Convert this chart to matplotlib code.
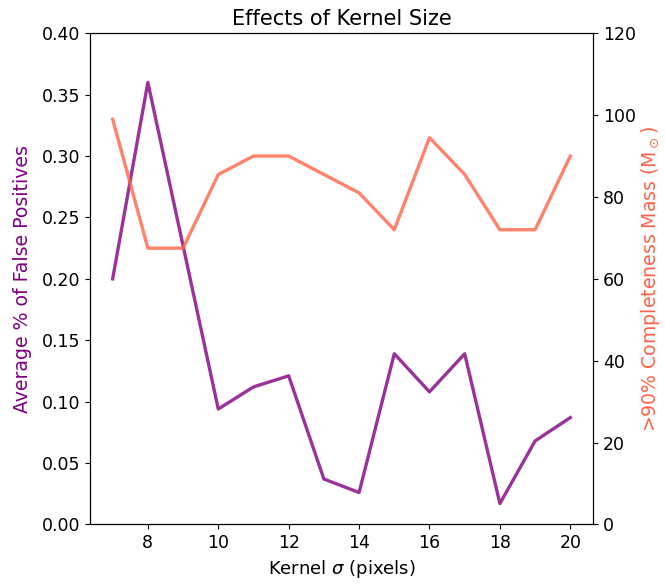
import numpy as np
import matplotlib
matplotlib.use('Agg')
import matplotlib.pyplot as plt

# Data ----------------------------------------------------------------------------------
kernel_sigma = [7, 8, 9, 10, 11, 12, 13, 14, 15, 16, 17, 18, 19, 20]
false_pos = [0.200, 0.360, 0.227, 0.094, 0.112, 0.121, 0.037, 0.026,
             0.139, 0.108, 0.139, 0.017, 0.068, 0.087]
completeness_mass = [99.0, 67.5, 67.5, 85.5, 90.0, 90.0, 85.5, 81.0,
                     72.0, 94.5, 85.5, 72.0, 72.0, 90.0]

plt.rcParams['font.size'] = 12.5

fig = plt.figure(figsize=(6.65, 5.84), dpi=100)
ax1 = fig.add_axes([0.135, 0.102, 0.757, 0.841])

ax1.plot(kernel_sigma, false_pos, color='purple', alpha=0.8, lw=2.4)
ax1.set_ylim(0, 0.40)
ax1.set_yticks(np.arange(0, 0.41, 0.05))
ax1.set_xticks([8, 10, 12, 14, 16, 18, 20])
ax1.set_xlabel(r'Kernel $\sigma$ (pixels)', fontsize=13)
ax1.set_ylabel('Average % of False Positives', color='purple', fontsize=13.6, labelpad=7)
ax1.set_title('Effects of Kernel Size', fontsize=15)

ax2 = ax1.twinx()
ax2.plot(kernel_sigma, completeness_mass, color='tomato', alpha=0.8, lw=2.4)
ax2.set_ylim(0, 120)
ax2.set_ylabel(r'>90% Completeness Mass (M$_\odot$)', color='tomato', fontsize=13.6, labelpad=2)

fig.savefig('out.png', dpi=100)
